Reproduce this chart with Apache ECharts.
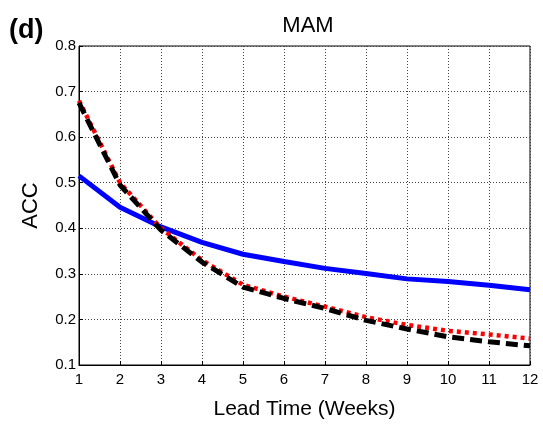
<!DOCTYPE html>
<html><head><meta charset="utf-8">
<script src="https://cdn.jsdelivr.net/npm/echarts@6/dist/echarts.min.js"></script>
<style>html,body{margin:0;padding:0;background:#fff}#c{width:543px;height:425px}</style>
</head><body><div id="c"></div>
<script>
const leadWeeks = [1,2,3,4,5,6,7,8,9,10,11,12];
const blueSolid = [0.515,0.446,0.403,0.369,0.343,0.327,0.312,0.301,0.289,0.283,0.275,0.265];
const redDotted = [0.68,0.50,0.40,0.33,0.276,0.25,0.228,0.205,0.188,0.175,0.167,0.158];
const blackDashed = [0.675,0.495,0.396,0.326,0.271,0.246,0.224,0.198,0.179,0.162,0.151,0.142];
const yTicks = [0.1,0.2,0.3,0.4,0.5,0.6,0.7,0.8];

const chart = echarts.init(document.getElementById('c'));
const pair = arr => leadWeeks.map((x,i)=>[x,arr[i]]);
const fnt = 'Arial, Liberation Sans, sans-serif';
chart.setOption({
  animation:false,
  title:{text:'MAM',left:303,top:10,textAlign:'center',textStyle:{fontFamily:fnt,fontSize:22,fontWeight:'normal',color:'#000'}},
  graphic:[{type:'text',left:9,top:17,style:{text:'(d)',font:'bold 27px '+fnt,fill:'#000'}}],
  grid:{left:79,right:13,top:46,bottom:58,show:true,borderColor:'#000',borderWidth:1},
  xAxis:{type:'value',min:1,max:12,interval:1,
    name:'Lead Time (Weeks)',nameLocation:'middle',nameGap:34,
    nameTextStyle:{fontFamily:fnt,fontSize:21,color:'#000'},
    axisLine:{lineStyle:{color:'#000',width:1}},
    axisTick:{inside:true,length:4,lineStyle:{color:'#000'}},
    axisLabel:{fontFamily:fnt,fontSize:15,color:'#000',margin:7},
    splitLine:{show:true,lineStyle:{type:[1,2],color:'#444',width:1}}},
  yAxis:{type:'value',min:0.1,max:0.8,interval:0.1,
    name:'ACC',nameLocation:'middle',nameGap:37,
    nameTextStyle:{fontFamily:fnt,fontSize:22,color:'#000'},
    axisLine:{show:true,lineStyle:{color:'#000',width:1}},
    axisTick:{show:true,inside:true,length:4,lineStyle:{color:'#000'}},
    axisLabel:{fontFamily:fnt,fontSize:15,color:'#000',margin:3,formatter:v=>v.toFixed(1)},
    splitLine:{show:true,lineStyle:{type:[1,2],color:'#444',width:1}}},
  series:[
    {type:'line',data:pair(blueSolid),showSymbol:false,lineStyle:{color:'#0000ff',width:5},z:2},
    {type:'line',data:pair(redDotted),showSymbol:false,lineStyle:{color:'#ff0000',width:4.5,type:[4,4]},z:3},
    {type:'line',data:pair(blackDashed),showSymbol:false,lineStyle:{color:'#000',width:5,type:[12,6]},z:4}
  ]
});
</script></body></html>
